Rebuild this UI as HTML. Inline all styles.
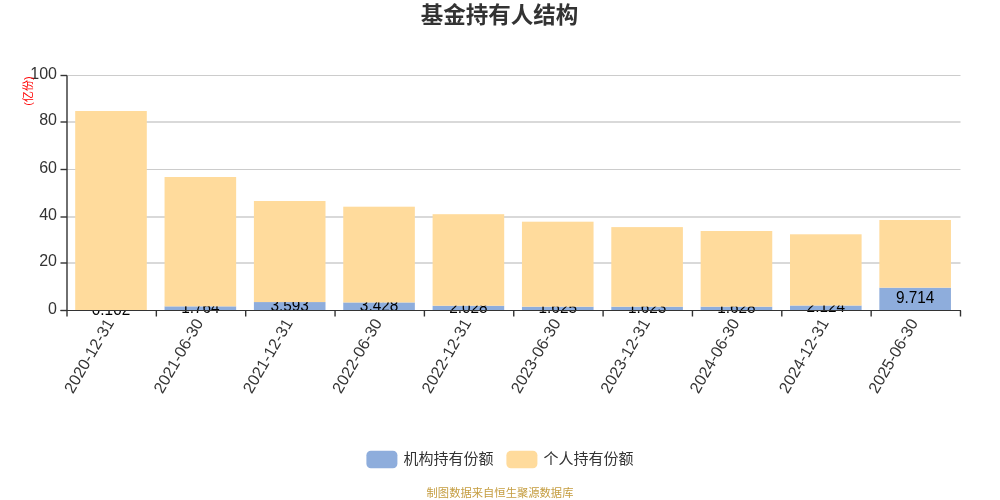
<!DOCTYPE html>
<html lang="zh"><head><meta charset="utf-8"><title>基金持有人结构</title>
<style>
html,body{margin:0;padding:0;background:#fff;}
body{width:1000px;height:500px;overflow:hidden;font-family:"Liberation Sans","Noto Sans CJK SC",sans-serif;}
svg{display:block;}
text{font-family:"Liberation Sans","Noto Sans CJK SC",sans-serif;}
</style></head><body>
<svg width="1000" height="500" viewBox="0 0 1000 500">
<rect width="1000" height="500" fill="#fff"/>
<text x="499.6" y="23.3" text-anchor="middle" font-size="22.5" font-weight="bold" fill="#333">基金持有人结构</text>

<line x1="67.0" x2="960.5" y1="263.0" y2="263.0" stroke="#ccc" stroke-width="1.5"/>
<line x1="67.0" x2="960.5" y1="217.0" y2="217.0" stroke="#ccc" stroke-width="1.5"/>
<line x1="67.0" x2="960.5" y1="169.5" y2="169.5" stroke="#ccc" stroke-width="1"/>
<line x1="67.0" x2="960.5" y1="122.0" y2="122.0" stroke="#ccc" stroke-width="1.5"/>
<line x1="67.0" x2="960.5" y1="75.5" y2="75.5" stroke="#ccc" stroke-width="1"/>
<rect x="75.20" y="310.26" width="71.6" height="0.24" fill="#8eaddc"/>
<text transform="translate(111.00,314.78) scale(0.96,1)" text-anchor="middle" font-size="16" fill="#000">0.102</text>
<rect x="75.20" y="111.00" width="71.6" height="199.26" fill="#ffdb9c"/>
<rect x="164.55" y="306.35" width="71.6" height="4.15" fill="#8eaddc"/>
<text transform="translate(200.35,312.83) scale(0.96,1)" text-anchor="middle" font-size="16" fill="#000">1.764</text>
<rect x="164.55" y="177.00" width="71.6" height="129.35" fill="#ffdb9c"/>
<rect x="253.90" y="302.06" width="71.6" height="8.44" fill="#8eaddc"/>
<text transform="translate(289.70,310.68) scale(0.96,1)" text-anchor="middle" font-size="16" fill="#000">3.593</text>
<rect x="253.90" y="201.00" width="71.6" height="101.06" fill="#ffdb9c"/>
<rect x="343.25" y="302.44" width="71.6" height="8.06" fill="#8eaddc"/>
<text transform="translate(379.05,310.87) scale(0.96,1)" text-anchor="middle" font-size="16" fill="#000">3.428</text>
<rect x="343.25" y="206.70" width="71.6" height="95.74" fill="#ffdb9c"/>
<rect x="432.60" y="305.73" width="71.6" height="4.77" fill="#8eaddc"/>
<text transform="translate(468.40,312.52) scale(0.96,1)" text-anchor="middle" font-size="16" fill="#000">2.028</text>
<rect x="432.60" y="214.20" width="71.6" height="91.53" fill="#ffdb9c"/>
<rect x="521.95" y="306.68" width="71.6" height="3.82" fill="#8eaddc"/>
<text transform="translate(557.75,312.99) scale(0.96,1)" text-anchor="middle" font-size="16" fill="#000">1.625</text>
<rect x="521.95" y="221.70" width="71.6" height="84.98" fill="#ffdb9c"/>
<rect x="611.30" y="306.69" width="71.6" height="3.81" fill="#8eaddc"/>
<text transform="translate(647.10,312.99) scale(0.96,1)" text-anchor="middle" font-size="16" fill="#000">1.623</text>
<rect x="611.30" y="227.10" width="71.6" height="79.59" fill="#ffdb9c"/>
<rect x="700.65" y="306.67" width="71.6" height="3.83" fill="#8eaddc"/>
<text transform="translate(736.45,312.99) scale(0.96,1)" text-anchor="middle" font-size="16" fill="#000">1.628</text>
<rect x="700.65" y="231.00" width="71.6" height="75.67" fill="#ffdb9c"/>
<rect x="790.00" y="305.51" width="71.6" height="4.99" fill="#8eaddc"/>
<text transform="translate(825.80,312.40) scale(0.96,1)" text-anchor="middle" font-size="16" fill="#000">2.124</text>
<rect x="790.00" y="234.30" width="71.6" height="71.21" fill="#ffdb9c"/>
<rect x="879.35" y="287.67" width="71.6" height="22.83" fill="#8eaddc"/>
<text transform="translate(915.15,303.49) scale(0.96,1)" text-anchor="middle" font-size="16" fill="#000">9.714</text>
<rect x="879.35" y="220.00" width="71.6" height="67.67" fill="#ffdb9c"/>
<line x1="67.0" x2="67.0" y1="75.5" y2="310.5" stroke="#333" stroke-width="1.4"/>
<line x1="60.5" x2="961.0" y1="310.5" y2="310.5" stroke="#333" stroke-width="1.2"/>
<line x1="60.5" x2="67.0" y1="310.5" y2="310.5" stroke="#333" stroke-width="1.4"/>
<text x="57" y="313.9" text-anchor="end" font-size="16" fill="#333">0</text>
<line x1="60.5" x2="67.0" y1="263.0" y2="263.0" stroke="#333" stroke-width="1.4"/>
<text x="57" y="266.4" text-anchor="end" font-size="16" fill="#333">20</text>
<line x1="60.5" x2="67.0" y1="217.0" y2="217.0" stroke="#333" stroke-width="1.4"/>
<text x="57" y="220.4" text-anchor="end" font-size="16" fill="#333">40</text>
<line x1="60.5" x2="67.0" y1="169.5" y2="169.5" stroke="#333" stroke-width="1.4"/>
<text x="57" y="172.9" text-anchor="end" font-size="16" fill="#333">60</text>
<line x1="60.5" x2="67.0" y1="122.0" y2="122.0" stroke="#333" stroke-width="1.4"/>
<text x="57" y="125.4" text-anchor="end" font-size="16" fill="#333">80</text>
<line x1="60.5" x2="67.0" y1="75.5" y2="75.5" stroke="#333" stroke-width="1.4"/>
<text x="57" y="78.9" text-anchor="end" font-size="16" fill="#333">100</text>
<line x1="67.00" x2="67.00" y1="310.5" y2="316.5" stroke="#333" stroke-width="1.4"/>
<line x1="156.35" x2="156.35" y1="310.5" y2="316.5" stroke="#333" stroke-width="1.4"/>
<line x1="245.70" x2="245.70" y1="310.5" y2="316.5" stroke="#333" stroke-width="1.4"/>
<line x1="335.05" x2="335.05" y1="310.5" y2="316.5" stroke="#333" stroke-width="1.4"/>
<line x1="424.40" x2="424.40" y1="310.5" y2="316.5" stroke="#333" stroke-width="1.4"/>
<line x1="513.75" x2="513.75" y1="310.5" y2="316.5" stroke="#333" stroke-width="1.4"/>
<line x1="603.10" x2="603.10" y1="310.5" y2="316.5" stroke="#333" stroke-width="1.4"/>
<line x1="692.45" x2="692.45" y1="310.5" y2="316.5" stroke="#333" stroke-width="1.4"/>
<line x1="781.80" x2="781.80" y1="310.5" y2="316.5" stroke="#333" stroke-width="1.4"/>
<line x1="871.15" x2="871.15" y1="310.5" y2="316.5" stroke="#333" stroke-width="1.4"/>
<line x1="960.50" x2="960.50" y1="310.5" y2="316.5" stroke="#333" stroke-width="1.4"/>
<text transform="translate(114.47,322.7) rotate(-60)" text-anchor="end" font-size="16.2" fill="#333">2020-12-31</text>
<text transform="translate(203.82,322.7) rotate(-60)" text-anchor="end" font-size="16.2" fill="#333">2021-06-30</text>
<text transform="translate(293.18,322.7) rotate(-60)" text-anchor="end" font-size="16.2" fill="#333">2021-12-31</text>
<text transform="translate(382.52,322.7) rotate(-60)" text-anchor="end" font-size="16.2" fill="#333">2022-06-30</text>
<text transform="translate(471.88,322.7) rotate(-60)" text-anchor="end" font-size="16.2" fill="#333">2022-12-31</text>
<text transform="translate(561.22,322.7) rotate(-60)" text-anchor="end" font-size="16.2" fill="#333">2023-06-30</text>
<text transform="translate(650.57,322.7) rotate(-60)" text-anchor="end" font-size="16.2" fill="#333">2023-12-31</text>
<text transform="translate(739.92,322.7) rotate(-60)" text-anchor="end" font-size="16.2" fill="#333">2024-06-30</text>
<text transform="translate(829.27,322.7) rotate(-60)" text-anchor="end" font-size="16.2" fill="#333">2024-12-31</text>
<text transform="translate(918.62,322.7) rotate(-60)" text-anchor="end" font-size="16.2" fill="#333">2025-06-30</text>
<text transform="translate(31.5,91) rotate(-90)" text-anchor="middle" font-size="11" fill="#f00">(亿份)</text>
<rect x="366.4" y="450.8" width="31" height="17.5" rx="4.5" fill="#8eaddc"/>
<text x="403.5" y="464" font-size="15" fill="#333">机构持有份额</text>
<rect x="506.4" y="450.8" width="31" height="17.5" rx="4.5" fill="#ffdb9c"/>
<text x="543.5" y="464" font-size="15" fill="#333">个人持有份额</text>
<text x="500" y="497.3" text-anchor="middle" font-size="11.3" fill="#c59d40">制图数据来自恒生聚源数据库</text>
</svg></body></html>
